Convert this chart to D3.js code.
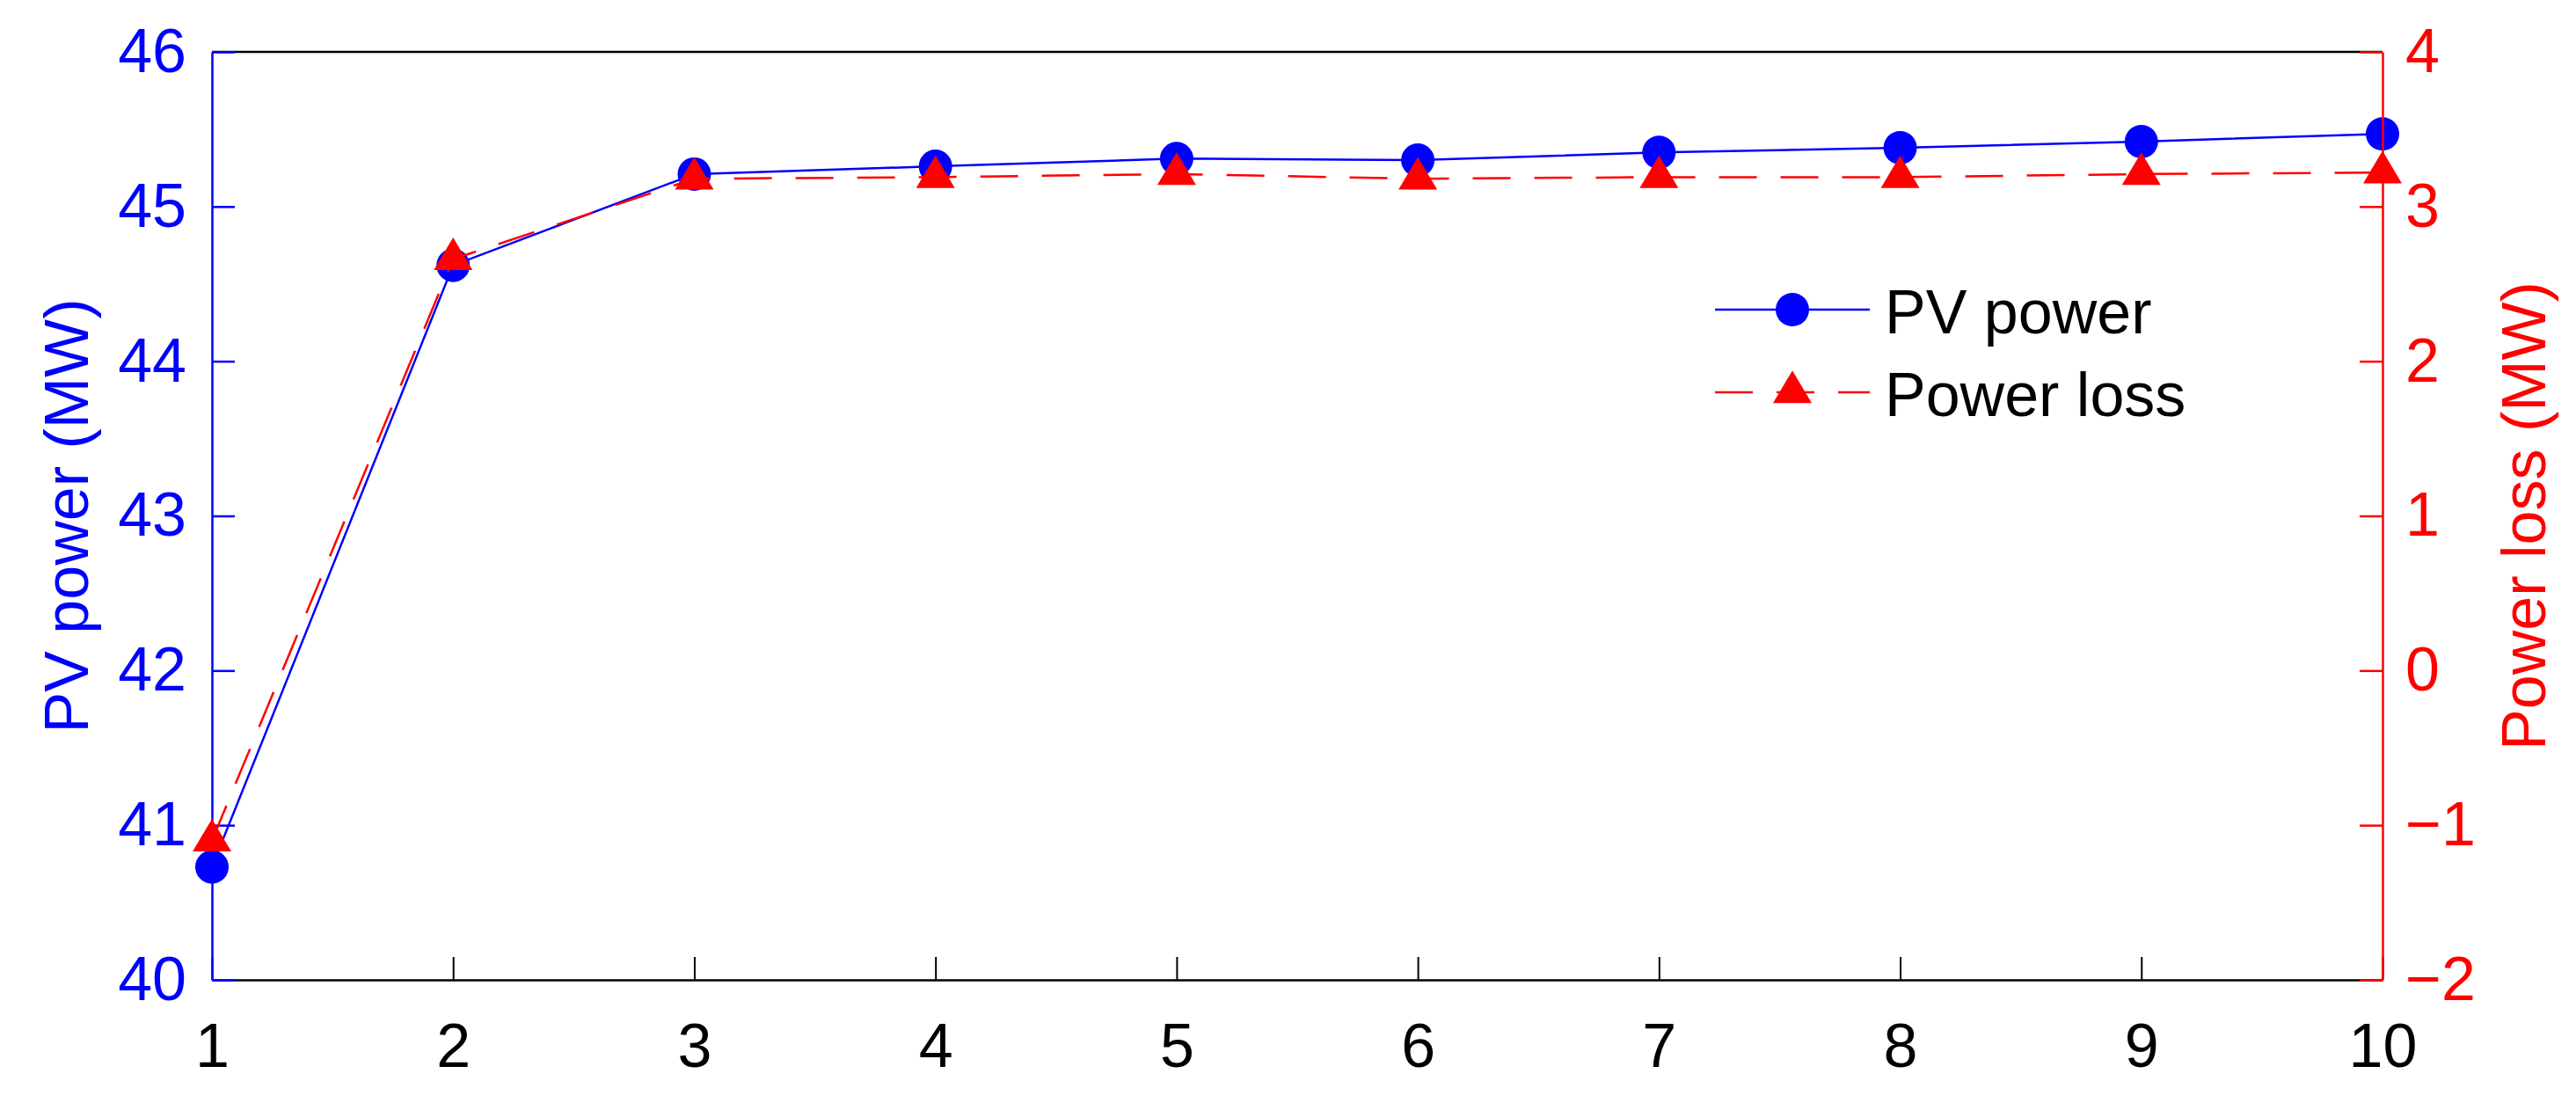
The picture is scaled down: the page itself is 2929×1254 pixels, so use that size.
<!DOCTYPE html>
<html>
<head>
<meta charset="utf-8">
<script src="https://cdn.jsdelivr.net/npm/d3@7"></script>
<style>
  html, body { margin: 0; padding: 0; background: #fff; }
  svg { display: block; }
  text { font-family: "Liberation Sans", Arial, sans-serif; }
</style>
</head>
<body>
<script>
// ---- data ----
const iterations = [1, 2, 3, 4, 5, 6, 7, 8, 9, 10];
const pvPower   = [40.73, 44.62, 45.21, 45.26, 45.31, 45.30, 45.35, 45.38, 45.42, 45.47];
const powerLoss = [-1.10, 2.66, 3.18, 3.19, 3.21, 3.18, 3.19, 3.19, 3.21, 3.22];
const xTicks  = [1, 2, 3, 4, 5, 6, 7, 8, 9, 10];
const yLTicks = [40, 41, 42, 43, 44, 45, 46];
const yRTicks = [-2, -1, 0, 1, 2, 3, 4];
const seriesNames = ["PV power", "Power loss"];
const axisTitles = ["PV power (MW)", "Power loss (MW)"];

// ---- layout ----
const W = 2929, H = 1254;
const L = 241, R = 2709, T = 59, B = 1114;
const BLUE = "#0000ff", RED = "#ff0000";
const FS = 70, TICK = 26;

const svg = d3.select("body").append("svg").attr("width", W).attr("height", H);

const x  = d3.scaleLinear().domain([1, 10]).range([L, R]);
const yL = d3.scaleLinear().domain([40, 46]).range([B, T]);
const yR = d3.scaleLinear().domain([-2, 4]).range([B, T]);

const fmt = d => (d < 0 ? "\u2212" + Math.abs(d) : String(d));

// box: top line black
svg.append("line").attr("x1", L).attr("x2", R).attr("y1", T).attr("y2", T)
  .attr("stroke", "#000").attr("stroke-width", 2.5);

// bottom x axis
const xAxis = d3.axisBottom(x).tickValues(xTicks).tickSizeInner(-TICK).tickSizeOuter(0)
  .tickPadding(49).tickFormat(fmt);
const gx = svg.append("g").attr("transform", `translate(0,${B})`).call(xAxis);
gx.select(".domain").attr("stroke", "#000").attr("stroke-width", 2.5);
gx.selectAll(".tick line").attr("stroke", "#000").attr("stroke-width", 2);
gx.selectAll(".tick text").attr("fill", "#000").attr("font-size", FS)
  .attr("font-family", "Liberation Sans, Arial, sans-serif");

// left axis
const yLAxis = d3.axisLeft(yL).tickValues(yLTicks).tickSizeInner(-TICK).tickSizeOuter(0)
  .tickPadding(29).tickFormat(fmt);
const gyl = svg.append("g").attr("transform", `translate(${L},0)`).call(yLAxis);
gyl.select(".domain").attr("stroke", BLUE).attr("stroke-width", 2.5);
gyl.selectAll(".tick line").attr("stroke", BLUE).attr("stroke-width", 2.5);
gyl.selectAll(".tick text").attr("fill", BLUE).attr("font-size", FS)
  .attr("font-family", "Liberation Sans, Arial, sans-serif");

// ---- series ----
const ptsPV = iterations.map((d, i) => [x(d), yL(pvPower[i])]);
const ptsPL = iterations.map((d, i) => [x(d), yR(powerLoss[i])]);

svg.append("path").attr("d", d3.line()(ptsPV))
  .attr("fill", "none").attr("stroke", BLUE).attr("stroke-width", 2.5);
svg.selectAll("circle.pv").data(ptsPV).enter().append("circle")
  .attr("class", "pv").attr("cx", d => d[0]).attr("cy", d => d[1]).attr("r", 19)
  .attr("fill", BLUE);

svg.append("path").attr("d", d3.line()(ptsPL))
  .attr("fill", "none").attr("stroke", RED).attr("stroke-width", 2.5)
  .attr("stroke-dasharray", "43,27");

const triW = 44, triH = 37;
const triPath = `M0,${-triH * 2 / 3}L${triW / 2},${triH / 3}L${-triW / 2},${triH / 3}Z`;
svg.selectAll("path.pl").data(ptsPL).enter().append("path")
  .attr("class", "pl").attr("d", triPath)
  .attr("transform", d => `translate(${d[0]},${d[1]})`).attr("fill", RED);

// right axis (drawn on top)
const yRAxis = d3.axisRight(yR).tickValues(yRTicks).tickSizeInner(-TICK).tickSizeOuter(0)
  .tickPadding(26).tickFormat(fmt);
const gyr = svg.append("g").attr("transform", `translate(${R},0)`).call(yRAxis);
gyr.select(".domain").attr("stroke", RED).attr("stroke-width", 2.5);
gyr.selectAll(".tick line").attr("stroke", RED).attr("stroke-width", 2.5);
gyr.selectAll(".tick text").attr("fill", RED).attr("font-size", FS)
  .attr("font-family", "Liberation Sans, Arial, sans-serif");

// axis titles
const midY = (T + B) / 2;
svg.append("text").text(axisTitles[0])
  .attr("transform", `translate(100,${midY}) rotate(-90)`)
  .attr("text-anchor", "middle").attr("fill", BLUE).attr("font-size", FS);
svg.append("text").text(axisTitles[1])
  .attr("transform", `translate(2894,${midY}) rotate(-90)`)
  .attr("text-anchor", "middle").attr("fill", RED).attr("font-size", FS);

// ---- legend ----
const lg = svg.append("g");
const lx0 = 1950, lx1 = 2126, lmx = 2038;
const ly1 = 352, ly2 = 446;
lg.append("line").attr("x1", lx0).attr("x2", lx1).attr("y1", ly1).attr("y2", ly1)
  .attr("stroke", BLUE).attr("stroke-width", 2.5);
lg.append("circle").attr("cx", lmx).attr("cy", ly1).attr("r", 19).attr("fill", BLUE);
lg.append("text").text(seriesNames[0]).attr("x", 2143).attr("y", ly1 + 27)
  .attr("fill", "#000").attr("font-size", FS);

lg.append("line").attr("x1", lx0).attr("x2", lx1).attr("y1", ly2).attr("y2", ly2)
  .attr("stroke", RED).attr("stroke-width", 2.5).attr("stroke-dasharray", "43,27");
lg.append("path").attr("d", triPath).attr("transform", `translate(${lmx},${ly2})`).attr("fill", RED);
lg.append("text").text(seriesNames[1]).attr("x", 2143).attr("y", ly2 + 27)
  .attr("fill", "#000").attr("font-size", FS);
</script>
</body>
</html>
